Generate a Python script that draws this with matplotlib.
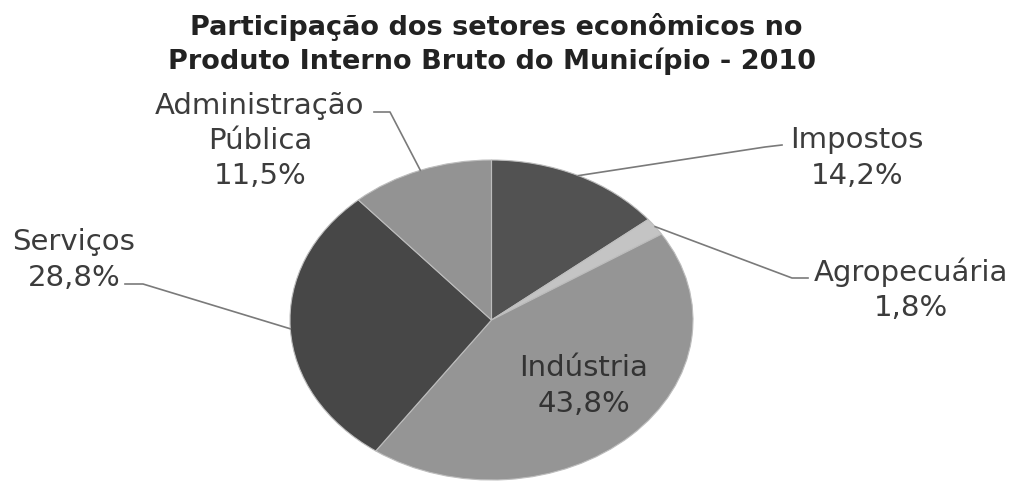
import numpy as np
import matplotlib
matplotlib.use("Agg")
import matplotlib.pyplot as plt
from matplotlib.lines import Line2D

# setores do PIB (sentido horario a partir do topo)
setores = ["Impostos", "Agropecuária", "Indústria", "Serviços", "Administração\nPública"]
valores = [14.2, 1.8, 43.8, 28.8, 11.5]
rotulos = ["14,2%", "1,8%", "43,8%", "28,8%", "11,5%"]
cores = ["#525252", "#c4c4c4", "#959595", "#474747", "#939393"]

titulo1 = "Participação dos setores econômicos no"
titulo2 = "Produto Interno Bruto do Município - 2010"

W, H = 1017, 483
plt.rcParams['font.family'] = ['DejaVu Sans']

fig = plt.figure(figsize=(W / 100, H / 100), dpi=100)


def px(x, y):
    # pixel (origem no topo) -> fracao da figura
    return x / W, 1 - y / H


ax = fig.add_axes([290 / W, 3 / H, 403 / W, 320 / H])
wedges, _ = ax.pie(valores, colors=cores, startangle=90, counterclock=False,
                   radius=1, wedgeprops=dict(edgecolor="#bdbdbd", linewidth=0.8))
ax.set_aspect("auto")
ax.set_xlim(-1, 1)
ax.set_ylim(-1, 1)

fig.text(*px(496, 27), titulo1, ha="center", va="center", fontsize=19.5,
         fontweight="bold", color="#222222")
fig.text(*px(492, 61), titulo2, ha="center", va="center", fontsize=19.5,
         fontweight="bold", color="#222222")

# posicao do texto, cotovelo e fim da linha guia (em pixels)
layout = {
    0: dict(txt=(857, 158), elbow=(765, 147), end=(782, 145)),
    1: dict(txt=(911, 290), elbow=(792, 278), end=(808, 278)),
    2: dict(txt=(584, 386)),
    3: dict(txt=(74, 260), elbow=(143, 284), end=(125, 284)),
    4: dict(txt=(260, 141), elbow=(390, 112), end=(374, 112)),
}

inv = fig.transFigure.inverted()
for i, w in enumerate(wedges):
    lay = layout[i]
    cor_txt = "#333333" if i == 2 else "#3c3c3c"
    fig.text(*px(*lay["txt"]), setores[i] + "\n" + rotulos[i], ha="center",
             va="center", fontsize=21, color=cor_txt, linespacing=1.32)
    if "elbow" in lay:
        ang = np.deg2rad((w.theta1 + w.theta2) / 2)
        edge = inv.transform(ax.transData.transform((np.cos(ang), np.sin(ang))))
        xs = [edge[0], px(*lay["elbow"])[0], px(*lay["end"])[0]]
        ys = [edge[1], px(*lay["elbow"])[1], px(*lay["end"])[1]]
        fig.add_artist(Line2D(xs, ys, color="#7a7a7a", linewidth=1.2))

fig.savefig("out.png", dpi=100, facecolor="white")
